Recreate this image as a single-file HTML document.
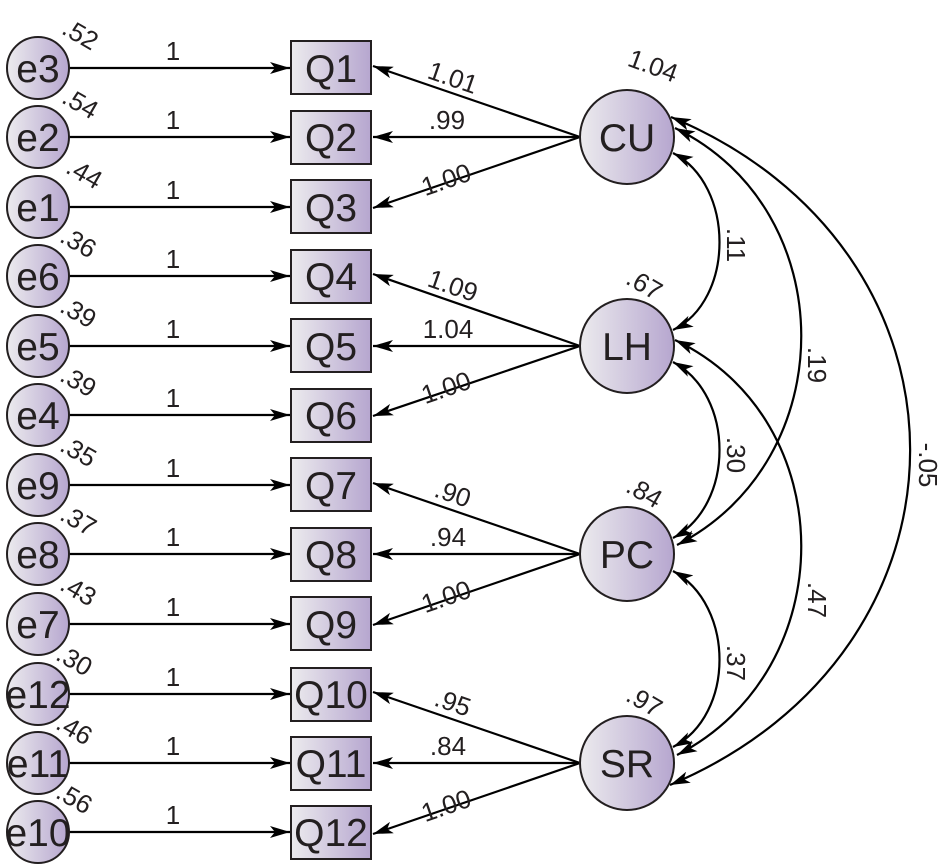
<!DOCTYPE html>
<html><head><meta charset="utf-8"><style>
html,body{margin:0;padding:0;background:#fff;width:950px;height:866px;overflow:hidden}
text{font-family:"Liberation Sans",Arial,sans-serif;fill:#231f20}
.n text{font-size:39px}
.l text{font-size:26px}
.u text{font-size:26px}
</style></head><body>
<svg width="950" height="866" viewBox="0 0 950 866" xmlns="http://www.w3.org/2000/svg">
<defs>
<linearGradient id="g" x1="0" x2="1" y1="0" y2="0"><stop offset="0" stop-color="#ecebee"/><stop offset="1" stop-color="#b6a6cf"/></linearGradient>
<marker id="a" viewBox="0 0 20 12" refX="20" refY="6" markerWidth="20" markerHeight="12" markerUnits="userSpaceOnUse" orient="auto-start-reverse"><path d="M0,0 L20,6 L0,12 L5,6 z" fill="#000"/></marker>
</defs>
<g stroke="#000" stroke-width="2.2" fill="none" marker-end="url(#a)">
<line x1="69" y1="68" x2="290" y2="68"/>
<line x1="69" y1="137" x2="290" y2="137"/>
<line x1="69" y1="207" x2="290" y2="207"/>
<line x1="69" y1="276" x2="290" y2="276"/>
<line x1="69" y1="346" x2="290" y2="346"/>
<line x1="69" y1="415" x2="290" y2="415"/>
<line x1="69" y1="485" x2="290" y2="485"/>
<line x1="69" y1="554" x2="290" y2="554"/>
<line x1="69" y1="624" x2="290" y2="624"/>
<line x1="69" y1="694" x2="290" y2="694"/>
<line x1="69" y1="763" x2="290" y2="763"/>
<line x1="69" y1="832" x2="290" y2="832"/>
<line x1="580" y1="137" x2="373" y2="66"/>
<line x1="580" y1="137" x2="373" y2="137"/>
<line x1="580" y1="137" x2="373" y2="208"/>
<line x1="580" y1="346" x2="373" y2="274"/>
<line x1="580" y1="346" x2="373" y2="346"/>
<line x1="580" y1="346" x2="373" y2="416"/>
<line x1="580" y1="554" x2="373" y2="483"/>
<line x1="580" y1="554" x2="373" y2="554"/>
<line x1="580" y1="554" x2="373" y2="625"/>
<line x1="580" y1="763" x2="373" y2="692"/>
<line x1="580" y1="763" x2="373" y2="763"/>
<line x1="580" y1="763" x2="373" y2="834"/>
</g>
<g stroke="#000" stroke-width="2.2" fill="none" marker-start="url(#a)" marker-end="url(#a)">
<path d="M673,153 C735,185 735,300 673,330"/>
<path d="M673,362 C735,395 735,505 673,538"/>
<path d="M673,571 C735,605 735,715 673,747"/>
<path d="M675,128 C843,210 843,460 677,545"/>
<path d="M675,340 C843,420 843,670 677,755"/>
<path d="M671,117 C990,250 990,650 670,785"/>
</g>
<g fill="url(#g)" stroke="#231f20" stroke-width="2">
<circle cx="38" cy="68" r="31"/><circle cx="38" cy="137" r="31"/><circle cx="38" cy="207" r="31"/>
<circle cx="38" cy="276" r="31"/><circle cx="38" cy="346" r="31"/><circle cx="38" cy="415" r="31"/>
<circle cx="38" cy="485" r="31"/><circle cx="38" cy="554" r="31"/><circle cx="38" cy="624" r="31"/>
<circle cx="38" cy="694" r="31"/><circle cx="38" cy="763" r="31"/><circle cx="38" cy="832" r="31"/>
<rect x="291" y="41" width="80" height="53"/><rect x="291" y="111" width="80" height="53"/><rect x="291" y="180" width="80" height="53"/>
<rect x="291" y="250" width="80" height="53"/><rect x="291" y="319" width="80" height="53"/><rect x="291" y="389" width="80" height="53"/>
<rect x="291" y="458" width="80" height="53"/><rect x="291" y="528" width="80" height="53"/><rect x="291" y="597" width="80" height="53"/>
<rect x="291" y="668" width="80" height="53"/><rect x="291" y="737" width="80" height="53"/><rect x="291" y="806" width="80" height="53"/>
<circle cx="627" cy="137" r="47"/><circle cx="627" cy="346" r="47"/><circle cx="627" cy="554" r="47"/><circle cx="627" cy="763" r="47"/>
</g>
<g class="n" text-anchor="middle">
<text x="38" y="82">e3</text><text x="38" y="151">e2</text><text x="38" y="221">e1</text>
<text x="38" y="290">e6</text><text x="38" y="360">e5</text><text x="38" y="429">e4</text>
<text x="38" y="499">e9</text><text x="38" y="568">e8</text><text x="38" y="638">e7</text>
<text x="38" y="708">e12</text><text x="38" y="777">e11</text><text x="38" y="846">e10</text>
<text x="331" y="82">Q1</text><text x="331" y="151">Q2</text><text x="331" y="221">Q3</text>
<text x="331" y="290">Q4</text><text x="331" y="360">Q5</text><text x="331" y="429">Q6</text>
<text x="331" y="499">Q7</text><text x="331" y="568">Q8</text><text x="331" y="638">Q9</text>
<text x="331" y="708">Q10</text><text x="331" y="777">Q11</text><text x="331" y="846">Q12</text>
<text x="627" y="151">CU</text><text x="627" y="360">LH</text><text x="627" y="568">PC</text><text x="627" y="777">SR</text>
</g>
<g class="u" text-anchor="middle">
<text x="173" y="60">1</text><text x="173" y="129">1</text><text x="173" y="199">1</text>
<text x="173" y="268">1</text><text x="173" y="338">1</text><text x="173" y="407">1</text>
<text x="173" y="477">1</text><text x="173" y="546">1</text><text x="173" y="616">1</text>
<text x="173" y="686">1</text><text x="173" y="755">1</text><text x="173" y="824">1</text>
<text x="447" y="129">.99</text><text x="448" y="338">1.04</text><text x="448" y="546">.94</text><text x="448" y="755">.84</text>
</g>
<g class="u" text-anchor="middle">
<text transform="translate(450,86) rotate(19)">1.01</text>
<text transform="translate(449,188) rotate(-19)">1.00</text>
<text transform="translate(450,294) rotate(19)">1.09</text>
<text transform="translate(449,396) rotate(-19)">1.00</text>
<text transform="translate(450,502) rotate(19)">.90</text>
<text transform="translate(449,605) rotate(-19)">1.00</text>
<text transform="translate(450,711) rotate(19)">.95</text>
<text transform="translate(449,814) rotate(-19)">1.00</text>
</g>
<g class="u" text-anchor="middle">
<text transform="translate(76,42) rotate(30)">.52</text>
<text transform="translate(76,111) rotate(30)">.54</text>
<text transform="translate(80,181) rotate(30)">.44</text>
<text transform="translate(74,250) rotate(30)">.36</text>
<text transform="translate(74,320) rotate(30)">.39</text>
<text transform="translate(74,389) rotate(30)">.39</text>
<text transform="translate(74,459) rotate(30)">.35</text>
<text transform="translate(74,528) rotate(30)">.37</text>
<text transform="translate(74,598) rotate(30)">.43</text>
<text transform="translate(70,668) rotate(30)">.30</text>
<text transform="translate(70,737) rotate(30)">.46</text>
<text transform="translate(70,806) rotate(30)">.56</text>
<text transform="translate(650,74) rotate(20)">1.04</text>
<text transform="translate(640,292) rotate(30)">.67</text>
<text transform="translate(640,500) rotate(30)">.84</text>
<text transform="translate(640,709) rotate(30)">.97</text>
</g>
<g class="u" text-anchor="middle">
<text transform="translate(727,245) rotate(90)">.11</text>
<text transform="translate(808,365) rotate(90)">.19</text>
<text transform="translate(919,465) rotate(90)">-.05</text>
<text transform="translate(727,455) rotate(90)">.30</text>
<text transform="translate(808,600) rotate(90)">.47</text>
<text transform="translate(727,663) rotate(90)">.37</text>
</g>
</svg>
</body></html>
